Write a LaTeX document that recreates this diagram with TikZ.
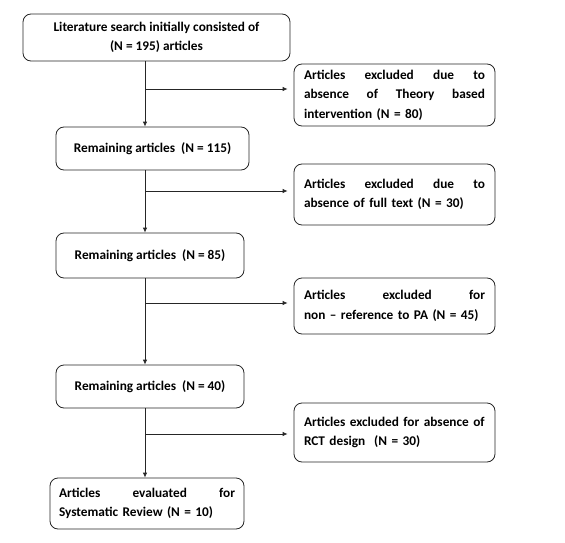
\documentclass[tikz,border=0pt]{standalone}
\usepackage{fontspec}
\setmainfont{Carlito}
\usetikzlibrary{arrows.meta}
\begin{document}
\begin{tikzpicture}[x=1pt,y=-1pt,
  box/.style={draw=black!85, line width=0.8pt, rounded corners=8pt, inner sep=0pt,
    font=\fontsize{13.3}{19.5}\selectfont\bfseries},
  jbox/.style={box, align=left, text width=#1},
  conn/.style={draw=black!85, line width=0.8pt},
  arr/.style={conn, -{Latex[length=5pt,width=4.5pt]}}]
\useasboundingbox (0,0) rectangle (565,543);
\node[box, minimum width=267pt, minimum height=47pt, align=center] (b1) at (156.5,37.5)
  {Literature search initially consisted of\\(N = 195) articles};
\node[box, minimum width=193pt, minimum height=43pt, align=center] (b2) at (152.5,148.5)
  {Remaining articles \ (N = 115)};
\node[box, minimum width=188pt, minimum height=45pt, align=center] (b3) at (150,255.5)
  {Remaining articles \ (N = 85)};
\node[box, minimum width=188pt, minimum height=43pt, align=center] (b4) at (150,386.5)
  {Remaining articles \ (N = 40)};
\node[jbox=176pt, minimum width=194pt, minimum height=51pt] (b5) at (147,503.5)
  {Articles\hfill evaluated\hfill for\\Systematic Review (N = 10)};
\node[jbox=181pt, minimum width=201pt, minimum height=62pt] (e1) at (394.5,95)
  {Articles\hfill excluded\hfill due\hfill to\\absence\hfill of\hfill Theory\hfill based\\intervention (N = 80)};
\node[jbox=181pt, minimum width=201pt, minimum height=61pt] (e2) at (394.5,194.5)
  {Articles\hfill excluded\hfill due\hfill to\\absence of full text (N = 30)};
\node[jbox=181pt, minimum width=201pt, minimum height=56pt] (e3) at (394.5,306)
  {Articles\hfill excluded\hfill for\\non -- reference to PA (N = 45)};
\node[jbox=181pt, minimum width=201pt, minimum height=59pt] (e4) at (394.5,432.5)
  {Articles excluded for absence of\\RCT design \ (N = 30)};
\coordinate (c1) at (145,89);
\coordinate (c2) at (145,191);
\coordinate (c3) at (145,303);
\coordinate (c4) at (145,434);
\draw[arr] (b1.south -| c1) -- (b2.north -| c1);
\draw[arr] (b2.south -| c2) -- (b3.north -| c2);
\draw[arr] (b3.south -| c3) -- (b4.north -| c3);
\draw[arr] (b4.south -| c4) -- (b5.north -| c4);
\draw[arr] (c1) -- ([xshift=-6pt]e1.west |- c1);
\draw[arr] (c2) -- ([xshift=-6pt]e2.west |- c2);
\draw[arr] (c3) -- ([xshift=-6pt]e3.west |- c3);
\draw[arr] (c4) -- ([xshift=-6pt]e4.west |- c4);
\end{tikzpicture}
\end{document}
